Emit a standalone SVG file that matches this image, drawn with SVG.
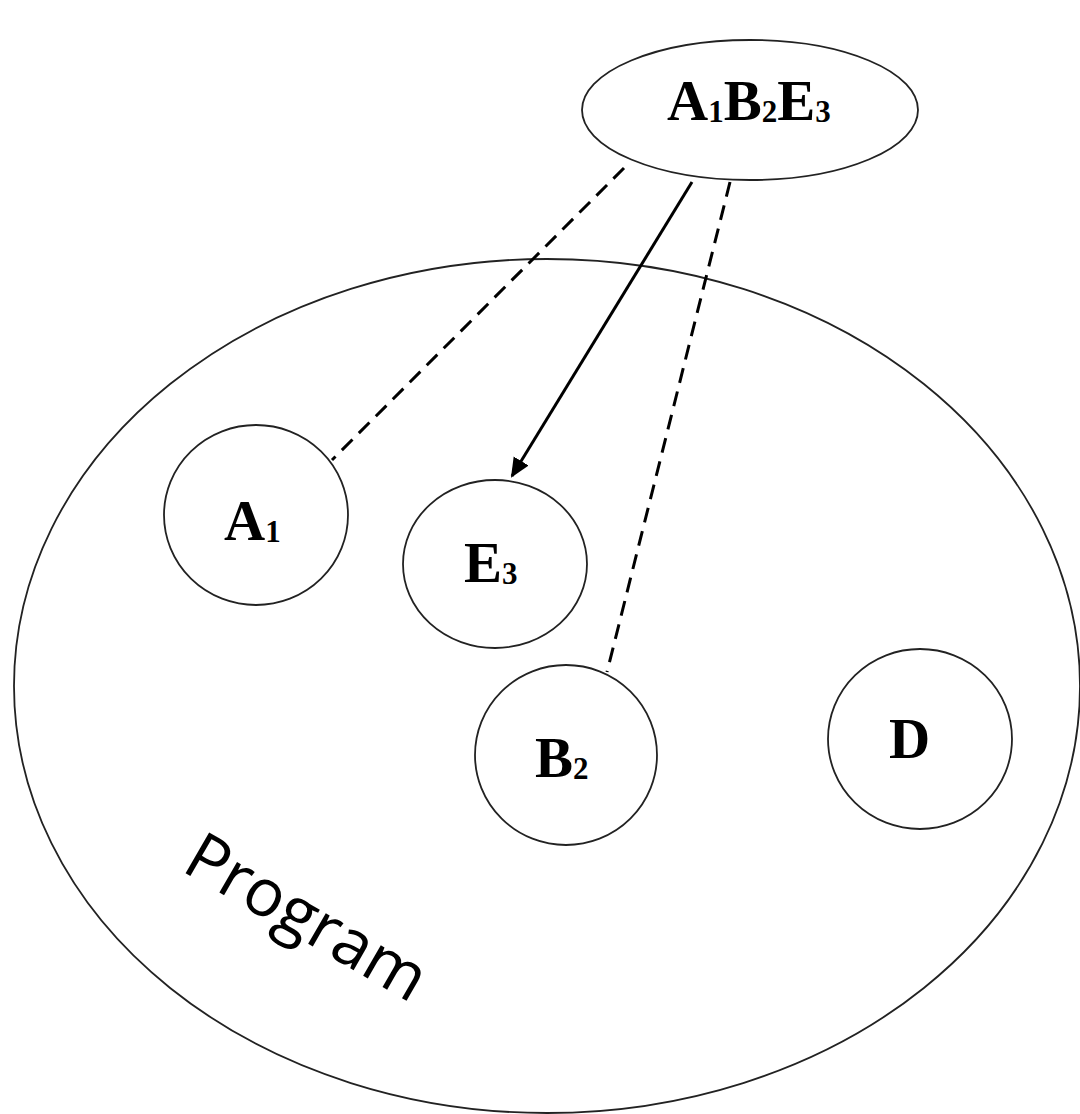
<svg xmlns="http://www.w3.org/2000/svg" width="1080" height="1114" viewBox="0 0 1080 1114">
<style>
.shape{fill:none;stroke:#222;stroke-width:1.8}
.lbl{font-family:"Liberation Serif","Times New Roman",serif;font-weight:bold;font-size:57px;fill:#000}
.sub{font-size:31px}
.dash{stroke:#000;stroke-width:3;stroke-dasharray:15 9;fill:none}
.solid{stroke:#000;stroke-width:3;fill:none}
.prog{font-family:"Open Sans","Noto Sans",sans-serif;font-size:66px;fill:#000}
</style>
<defs>
<marker id="arr" viewBox="0 0 10 10" refX="9" refY="5" markerWidth="6.5" markerHeight="6.5" markerUnits="strokeWidth" orient="auto">
<path d="M0,0.5 L10,5 L0,9.5 z" fill="#000"/>
</marker>
</defs>
<rect width="1080" height="1114" fill="#fff"/>
<g id="program">
<ellipse class="shape" cx="547" cy="686" rx="533" ry="427"/>
<text class="prog" transform="translate(180,870) rotate(30)">Program</text>
</g>
<g id="connectors">
<line class="dash" x1="624" y1="168" x2="332" y2="460"/>
<line class="solid" x1="692" y1="182" x2="512" y2="476" marker-end="url(#arr)"/>
<line class="dash" x1="730" y1="182" x2="607" y2="672"/>
</g>
<g id="node-a1b2e3">
<ellipse class="shape" cx="750" cy="110" rx="168" ry="70"/>
<text class="lbl" x="667" y="120">A<tspan class="sub" dy="2">1</tspan><tspan dy="-2">B</tspan><tspan class="sub" dy="2">2</tspan><tspan dy="-2">E</tspan><tspan class="sub" dy="2">3</tspan></text>
</g>
<g id="node-a1">
<ellipse class="shape" cx="256" cy="515" rx="92" ry="90"/>
<text class="lbl" x="224" y="540">A<tspan class="sub" dy="2">1</tspan></text>
</g>
<g id="node-e3">
<ellipse class="shape" cx="495" cy="564" rx="92" ry="84"/>
<text class="lbl" x="464" y="582">E<tspan class="sub" dy="2">3</tspan></text>
</g>
<g id="node-b2">
<ellipse class="shape" cx="566" cy="755" rx="91" ry="90"/>
<text class="lbl" x="535" y="777">B<tspan class="sub" dy="2">2</tspan></text>
</g>
<g id="node-d">
<ellipse class="shape" cx="920" cy="739" rx="92" ry="90"/>
<text class="lbl" x="889" y="758">D</text>
</g>
</svg>
